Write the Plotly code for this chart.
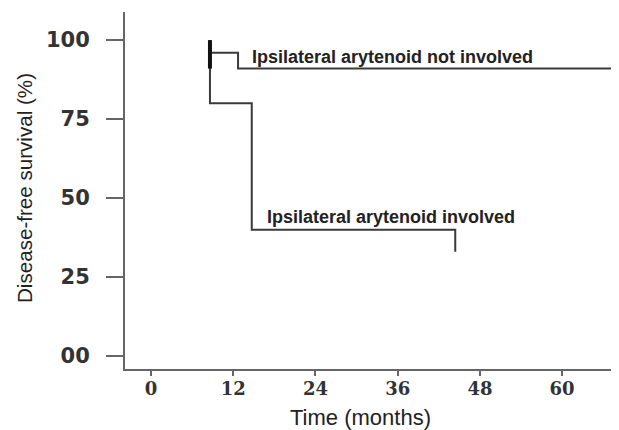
import plotly.graph_objects as go

# Data
x_not_involved = [8.6, 8.6, 12.7, 12.7, 68.3]
y_not_involved = [100, 96, 96, 91, 91]
x_censor = [8.6, 8.6]
y_censor = [100, 91]
x_involved = [8.6, 8.6, 14.7, 14.7, 44.4, 44.4]
y_involved = [100, 80, 80, 40, 40, 33]

x_ticks = [0, 12, 24, 36, 48, 60]
x_tick_labels = ["0", "12", "24", "36", "48", "60"]
y_ticks = [0, 25, 50, 75, 100]
y_tick_labels = ["00", "25", "50", "75", "100"]

label_not_involved = "Ipsilateral arytenoid not involved"
label_involved = "Ipsilateral arytenoid involved"
x_title = "Time (months)"
y_title = "Disease-free survival (%)"

line_color = "#3a3a3a"

fig = go.Figure()
fig.add_trace(go.Scatter(x=x_not_involved, y=y_not_involved, mode="lines",
                         line=dict(color=line_color, width=2), hoverinfo="skip"))
fig.add_trace(go.Scatter(x=x_involved, y=y_involved, mode="lines",
                         line=dict(color=line_color, width=2), hoverinfo="skip"))
fig.add_trace(go.Scatter(x=x_censor, y=y_censor, mode="lines",
                         line=dict(color="#111111", width=4), hoverinfo="skip"))

label_font = dict(family="Liberation Sans Narrow, Liberation Sans, Arial", size=18,
                  color="#222222", weight="bold")
fig.add_annotation(x=14.4, y=91, text=label_not_involved, showarrow=False,
                   xanchor="left", yanchor="bottom", yshift=0, font=label_font)
fig.add_annotation(x=16.6, y=40, text=label_involved, showarrow=False,
                   xanchor="left", yanchor="bottom", yshift=1, font=label_font)

title_font_family = "Liberation Sans, Arial"
fig.add_annotation(xref="paper", yref="paper", x=0.476, y=0, yshift=-48,
                   text=x_title, showarrow=False, xanchor="center", yanchor="middle",
                   font=dict(family=title_font_family, size=22, color="#222222"))
fig.add_annotation(xref="paper", yref="paper", x=0, xshift=-101, y=0.507,
                   text=y_title, showarrow=False, textangle=-90,
                   xanchor="center", yanchor="middle",
                   font=dict(family=title_font_family, size=20.6, color="#222222"))

fig.update_layout(
    width=611, height=422,
    margin=dict(l=117, r=0, t=4, b=61),
    paper_bgcolor="white", plot_bgcolor="white",
    showlegend=False,
    xaxis=dict(
        range=[-3.8, 68.3], tickmode="array", tickvals=x_ticks, ticktext=x_tick_labels,
        showline=True, linecolor="#666666", linewidth=2, showgrid=False, zeroline=False,
        ticks="outside", ticklen=5, tickwidth=2, tickcolor="#666666",
        ticklabelstandoff=-3,
        tickfont=dict(family="DejaVu Serif", size=18, color="#333333", weight="bold"),
    ),
    yaxis=dict(
        range=[-4.1, 108.9], tickmode="array", tickvals=y_ticks, ticktext=y_tick_labels,
        showline=True, linecolor="#666666", linewidth=2, showgrid=False, zeroline=False,
        ticks="outside", ticklen=17, tickwidth=2, tickcolor="#666666",
        ticklabelstandoff=12,
        tickfont=dict(family="DejaVu Sans", size=21, color="#333333", weight="bold"),
    ),
)

fig.write_html("out.html")
